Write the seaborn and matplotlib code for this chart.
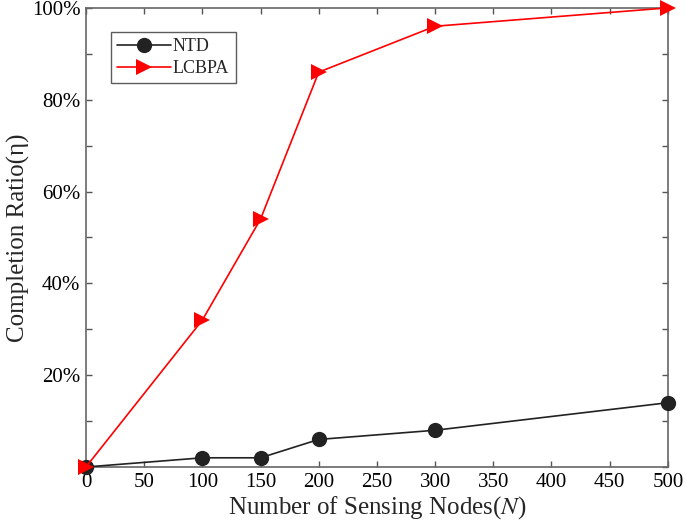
import matplotlib
matplotlib.use("Agg")
import matplotlib.pyplot as plt
import seaborn as sns
import pandas as pd
from matplotlib.ticker import MultipleLocator, FuncFormatter

nodes = [0, 100, 150, 200, 300, 500]
ntd = [0, 2, 2, 6, 8, 14]
lcbpa = [0, 32, 54, 86, 96, 100]

df = pd.DataFrame({
    "N": nodes * 2,
    "ratio": ntd + lcbpa,
    "method": ["NTD"] * len(nodes) + ["LCBPA"] * len(nodes),
})

sns.set_style("white")
plt.rcParams["font.family"] = ["Liberation Serif", "DejaVu Serif"]
plt.rcParams["mathtext.fontset"] = "stix"

fig = plt.figure(figsize=(6.85, 5.25), dpi=100)
ax = fig.add_axes([0.1255, 0.1105, 0.8495, 0.8745])

sns.lineplot(data=df, x="N", y="ratio", hue="method", style="method",
             palette={"NTD": "#222222", "LCBPA": "#ff0000"},
             markers={"NTD": "o", "LCBPA": ">"}, dashes=False,
             markersize=11, linewidth=1.2, markeredgewidth=0,
             ax=ax, clip_on=False, zorder=3)
for line in ax.lines:
    line.set_clip_on(False)

ax.set_xlim(0, 500)
ax.set_ylim(0, 100)
ax.xaxis.set_major_locator(MultipleLocator(50))
ax.yaxis.set_major_locator(MultipleLocator(10))
ax.yaxis.set_major_formatter(FuncFormatter(
    lambda v, p: f"{int(round(v))}%" if (round(v) % 20 == 0 and round(v) > 0) else ""))
ax.tick_params(direction="in", length=4, width=1, colors="#555555",
               labelcolor="black", labelsize=15, top=True, right=True,
               bottom=True, left=True, pad=4)
for s in ax.spines.values():
    s.set_color("#666666")
    s.set_linewidth(1.2)

ax.set_xlabel("Number of Sensing Nodes($\\mathit{N}$)", fontsize=18, labelpad=2)
ax.set_ylabel("Completion Ratio(η)", fontsize=18, labelpad=1)

leg = ax.legend(loc="upper left", bbox_to_anchor=(0.027, 0.967), fontsize=13,
                frameon=True, fancybox=False, edgecolor="#333333",
                handlelength=3.0, borderpad=0.35, labelspacing=0.25,
                handletextpad=0.1)
leg.get_frame().set_linewidth(1.0)

fig.savefig("out.png", dpi=100)
